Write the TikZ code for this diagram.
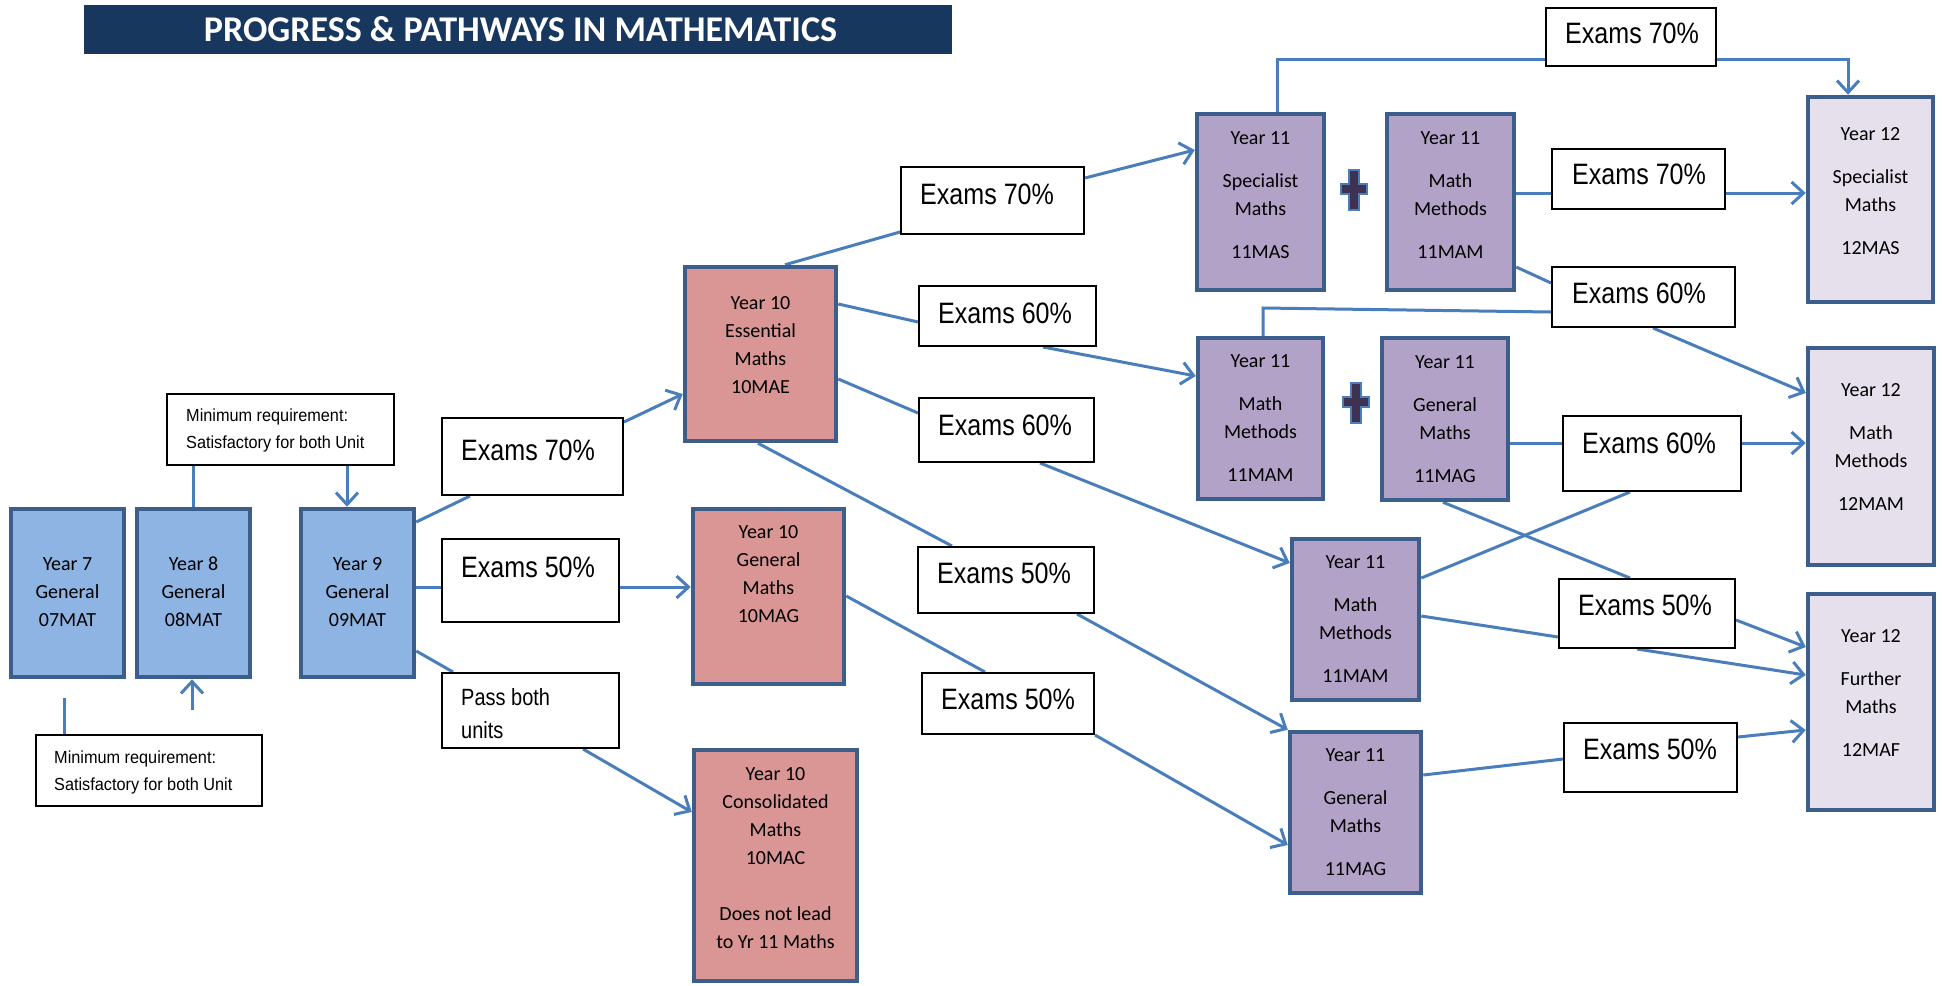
\documentclass[tikz,border=0pt]{standalone}
\usepackage{fontspec}
\usepackage{graphicx}
\setmainfont{Carlito}
\newfontfamily\arialn[FakeStretch=0.85]{Liberation Sans}
\newfontfamily\arialm[FakeStretch=0.93]{Liberation Sans}
\usetikzlibrary{arrows.meta,calc}
\pgfdeclarelayer{background}
\pgfsetlayers{background,main}
\definecolor{titleblue}{HTML}{17375E}
\definecolor{boxline}{HTML}{3B5E8C}
\definecolor{blue1}{HTML}{8EB4E3}
\definecolor{pink1}{HTML}{D99694}
\definecolor{purp1}{HTML}{B3A2C7}
\definecolor{lav1}{HTML}{E5E0EC}
\definecolor{link}{HTML}{4A7EBB}
\definecolor{plusfill}{HTML}{3F3151}
\tikzset{
  yb/.style={draw=boxline, line width=4.5pt, inner sep=0pt, fill=#1},
  btext/.style={align=center, inner sep=0pt, font=\fontsize{20}{28}\selectfont},
  exbox/.style={draw=black, line width=2pt, fill=white, inner sep=0pt},
  extext/.style={anchor=base west, inner sep=0pt, font=\arialn\fontsize{29.5}{29.5}\selectfont},
  mintext/.style={anchor=north west, align=left, inner sep=0pt, font=\arialm\fontsize{17.5}{27}\selectfont},
  conn/.style={draw=link, line width=3pt},
  arr/.style={conn, -{Straight Barb[length=12pt,width=22pt]}},
  plussign/.pic={
    \draw[fill=plusfill, draw=link, line width=1.5pt]
      (-5,-20) -- (5,-20) -- (5,-6) -- (13,-6) -- (13,4) -- (5,4) -- (5,20)
      -- (-5,20) -- (-5,4) -- (-13,4) -- (-13,-6) -- (-5,-6) -- cycle;
  }
}
\begin{document}
\begin{tikzpicture}[x=1pt,y=-1pt]
\useasboundingbox (0,0) rectangle (1942,985);

% title
\node[fill=titleblue, minimum width=868pt, minimum height=49pt, inner sep=0pt] (title) at (518,29.5) {};
\node[text=white, inner sep=0pt] (titletext) at (520.5,29) {\resizebox{633pt}{25pt}{\bfseries PROGRESS \& PATHWAYS IN MATHEMATICS}};

% year boxes
\node[yb=blue1, minimum width=113pt, minimum height=168pt] (y7) at (67.5,593) {};
\node[yb=blue1, minimum width=113pt, minimum height=168pt] (y8) at (193.5,593) {};
\node[yb=blue1, minimum width=113pt, minimum height=168pt] (y9) at (357.5,593) {};
\node[yb=pink1, minimum width=151pt, minimum height=174pt] (y10e) at (760.5,354) {};
\node[yb=pink1, minimum width=151pt, minimum height=175pt] (y10g) at (768.5,596.5) {};
\node[yb=pink1, minimum width=163pt, minimum height=231pt] (y10c) at (775.5,865.5) {};
\node[yb=purp1, minimum width=127pt, minimum height=176pt] (y11s) at (1260.5,202) {};
\node[yb=purp1, minimum width=127pt, minimum height=176pt] (y11m) at (1450.5,202) {};
\node[yb=purp1, minimum width=125pt, minimum height=161pt] (y11m2) at (1260.5,418.5) {};
\node[yb=purp1, minimum width=126pt, minimum height=162pt] (y11g) at (1445,419) {};
\node[yb=purp1, minimum width=127pt, minimum height=161pt] (y11m3) at (1355.5,619.5) {};
\node[yb=purp1, minimum width=131pt, minimum height=161pt] (y11g2) at (1355.5,812.5) {};
\node[yb=lav1, minimum width=125pt, minimum height=205pt] (y12s) at (1870.5,199.5) {};
\node[yb=lav1, minimum width=126pt, minimum height=217pt] (y12m) at (1871,456.5) {};
\node[yb=lav1, minimum width=126pt, minimum height=216pt] (y12f) at (1871,702) {};

% box texts
\node[btext] (y7t) at (67.5,592) {Year 7\\General\\07MAT};
\node[btext] (y8t) at (193.5,592) {Year 8\\General\\08MAT};
\node[btext] (y9t) at (357.5,592) {Year 9\\General\\09MAT};
\node[btext] (y10et) at (760.5,345) {Year 10\\Essential\\Maths\\10MAE};
\node[btext] (y10gt) at (768.5,574) {Year 10\\General\\Maths\\10MAG};
\node[btext] (y10ct) at (775.5,858) {Year 10\\Consolidated\\Maths\\10MAC\\[28pt]Does not lead\\to Yr 11 Maths};
\node[btext] (y11st) at (1260.5,195) {Year 11\\[15pt]Specialist\\Maths\\[15pt]11MAS};
\node[btext] (y11mt) at (1450.5,195) {Year 11\\[15pt]Math\\Methods\\[15pt]11MAM};
\node[btext] (y11m2t) at (1260.5,418) {Year 11\\[15pt]Math\\Methods\\[15pt]11MAM};
\node[btext] (y11gt) at (1445,419) {Year 11\\[15pt]General\\Maths\\[15pt]11MAG};
\node[btext] (y11m3t) at (1355.5,619.5) {Year 11\\[15pt]Math\\Methods\\[15pt]11MAM};
\node[btext] (y11g2t) at (1355.5,812) {Year 11\\[15pt]General\\Maths\\[15pt]11MAG};
\node[btext] (y12st) at (1870.5,191) {Year 12\\[15pt]Specialist\\Maths\\[15pt]12MAS};
\node[btext] (y12mt) at (1871,447) {Year 12\\[15pt]Math\\Methods\\[15pt]12MAM};
\node[btext] (y12ft) at (1871,693) {Year 12\\[15pt]Further\\Maths\\[15pt]12MAF};

% plus signs
\pic at (1354,190) {plussign};
\pic at (1356,403) {plussign};

% requirement boxes
\node[exbox, minimum width=227pt, minimum height=71pt] (minA) at (280.5,429.5) {};
\node[mintext] (minAt) at (186,408.5) {Minimum requirement:\\Satisfactory for both Unit};
\node[exbox, minimum width=226pt, minimum height=71pt] (minB) at (149,770.5) {};
\node[mintext] (minBt) at (54,750.5) {Minimum requirement:\\Satisfactory for both Unit};

% exam boxes
\node[exbox, minimum width=181pt, minimum height=77pt] (ex1) at (532.5,456.5) {};
\node[extext] (ex1t) at (461,460) {Exams 70\%};
\node[exbox, minimum width=177pt, minimum height=83pt] (ex2) at (530.5,580.5) {};
\node[extext] (ex2t) at (461,577) {Exams 50\%};
\node[exbox, minimum width=177pt, minimum height=75pt] (pass) at (530.5,710.5) {};
\node[anchor=north west, align=left, inner sep=0pt, font=\arialn\fontsize{23.5}{33}\selectfont] (passt) at (461,688) {Pass both\\units};
\node[exbox, minimum width=183pt, minimum height=67pt] (ex3) at (992.5,200.5) {};
\node[extext] (ex3t) at (920,204) {Exams 70\%};
\node[exbox, minimum width=177pt, minimum height=60pt] (ex4) at (1007.5,316) {};
\node[extext] (ex4t) at (938,323) {Exams 60\%};
\node[exbox, minimum width=175pt, minimum height=64pt] (ex5) at (1006.5,430) {};
\node[extext] (ex5t) at (938,435) {Exams 60\%};
\node[exbox, minimum width=176pt, minimum height=66pt] (ex6) at (1006,580) {};
\node[extext] (ex6t) at (937,583) {Exams 50\%};
\node[exbox, minimum width=172pt, minimum height=61pt] (ex7) at (1008,703.5) {};
\node[extext] (ex7t) at (941,709) {Exams 50\%};
\node[exbox, minimum width=170pt, minimum height=58pt] (ex8) at (1631,37) {};
\node[extext] (ex8t) at (1565,43) {Exams 70\%};
\node[exbox, minimum width=173pt, minimum height=60pt] (ex9) at (1638.5,179) {};
\node[extext] (ex9t) at (1572,184) {Exams 70\%};
\node[exbox, minimum width=183pt, minimum height=60pt] (ex10) at (1643.5,297) {};
\node[extext] (ex10t) at (1572,303) {Exams 60\%};
\node[exbox, minimum width=178pt, minimum height=75pt] (ex11) at (1652,453.5) {};
\node[extext] (ex11t) at (1582,453) {Exams 60\%};
\node[exbox, minimum width=176pt, minimum height=69pt] (ex12) at (1647,613.5) {};
\node[extext] (ex12t) at (1578,615) {Exams 50\%};
\node[exbox, minimum width=173pt, minimum height=69pt] (ex13) at (1650.5,757.5) {};
\node[extext] (ex13t) at (1583,759) {Exams 50\%};

% connectors
\begin{pgfonlayer}{background}
\draw[conn] (minA.south -| y8.north) -- (y8.north);
\draw[arr] (minA.south -| 347,0) -- (y9.north -| 347,0);
\coordinate (c1) at (64,698);
\draw[conn] (minB.north -| c1) -- (c1);
\coordinate (c2) at (192,710);
\draw[arr] (c2) -- (y8.south -| c2);
\draw[conn] (y9.east |- 0,522) -- (ex1.south -| 470,0);
\draw[arr] (ex1.east |- 0,422) -- (y10e.west |- 0,394);
\draw[conn] (y9.east |- 0,587) -- (ex2.west |- 0,587);
\draw[arr] (ex2.east |- 0,587) -- (y10g.west |- 0,587);
\draw[conn] (y9.east |- 0,651) -- (pass.north -| 453,0);
\draw[arr] (pass.south -| 583,0) -- (y10c.west |- 0,812);
\draw[conn] (y10e.north -| 785,0) -- (ex3.west |- 0,232);
\draw[arr] (ex3.east |- 0,178) -- (y11s.west |- 0,150);
\draw[conn] (y10e.east |- 0,304) -- (ex4.west |- 0,322);
\draw[arr] (ex4.south -| 1043,0) -- (y11m2.west |- 0,376);
\draw[conn] (y10e.east |- 0,379) -- (ex5.west |- 0,413);
\draw[arr] (ex5.south -| 1040,0) -- (y11m3.west |- 0,563);
\draw[conn] (y10e.south -| 758,0) -- (ex6.north -| 952,0);
\draw[arr] (ex6.south -| 1077,0) -- (y11g2.north west);
\draw[conn] (y10g.east |- 0,596) -- (ex7.north -| 985,0);
\draw[arr] (ex7.south east) -- (y11g2.west |- 0,845);
\draw[conn] (y11s.north -| 1277,0) |- (ex8.west |- 0,59);
\draw[arr] (ex8.east |- 0,59) -| (y12s.north -| 1848,0);
\draw[conn] (y11m.east |- 0,193) -- (ex9.west |- 0,193);
\draw[arr] (ex9.east |- 0,193) -- (y12s.west |- 0,193);
\draw[conn] (y11m.east |- 0,267) -- (ex10.west |- 0,283);
\draw[conn] (y11m2.north -| 1263,0) -- (1263,308) -- (ex10.west |- 0,312);
\draw[arr] (ex10.south -| 1653,0) -- (y12m.west |- 0,393);
\draw[conn] (y11g.east |- 0,443) -- (ex11.west |- 0,443);
\draw[arr] (ex11.east |- 0,443) -- (y12m.west |- 0,443);
\draw[conn] (y11m3.east |- 0,578) -- (ex11.south -| 1630,0);
\draw[conn] (y11g.south -| 1443,0) -- (ex12.north -| 1630,0);
\draw[arr] (ex12.east |- 0,620) -- (y12f.west |- 0,647);
\draw[conn] (y11m3.east |- 0,616) -- (ex12.west |- 0,637);
\draw[arr] (ex12.south -| 1637,0) -- (y12f.west |- 0,675);
\draw[conn] (y11g2.east |- 0,775) -- (ex13.west |- 0,759);
\draw[arr] (ex13.east |- 0,737) -- (y12f.west |- 0,730);
\end{pgfonlayer}
\end{tikzpicture}
\end{document}
